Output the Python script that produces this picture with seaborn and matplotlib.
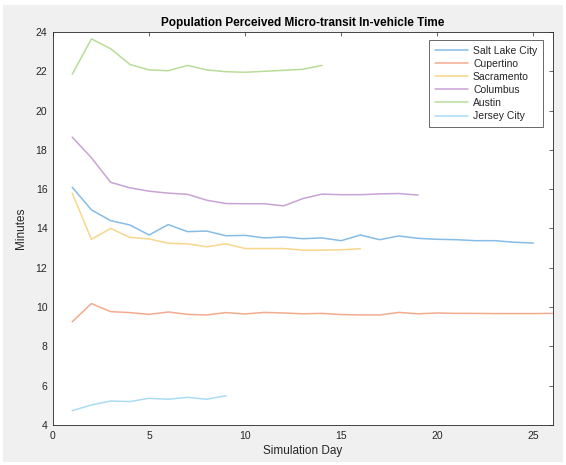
import numpy as np
import pandas as pd
import matplotlib
matplotlib.use("Agg")
import matplotlib.pyplot as plt
import seaborn as sns
from matplotlib.patches import Rectangle

cities = ["Salt Lake City", "Cupertino", "Sacramento", "Columbus", "Austin", "Jersey City"]

salt_lake = [16.1, 14.95, 14.4, 14.18, 13.67, 14.2, 13.84, 13.87, 13.63, 13.65, 13.52, 13.57,
             13.48, 13.52, 13.38, 13.67, 13.43, 13.62, 13.5, 13.45, 13.43, 13.38, 13.38, 13.3, 13.26]
cupertino = [9.25, 10.18, 9.77, 9.72, 9.63, 9.75, 9.63, 9.6, 9.72, 9.65, 9.73, 9.7, 9.66,
             9.68, 9.62, 9.6, 9.6, 9.73, 9.66, 9.7, 9.68, 9.68, 9.67, 9.67, 9.67, 9.68]
sacramento = [15.8, 13.45, 14.0, 13.55, 13.47, 13.25, 13.22, 13.07, 13.22, 12.98, 12.98,
              12.98, 12.9, 12.9, 12.92, 12.97]
columbus = [18.65, 17.6, 16.35, 16.07, 15.9, 15.8, 15.74, 15.44, 15.27, 15.26, 15.26, 15.15,
            15.52, 15.75, 15.72, 15.72, 15.76, 15.78, 15.7]
austin = [21.85, 23.65, 23.15, 22.35, 22.07, 22.03, 22.3, 22.07, 21.98, 21.95, 22.0, 22.05,
          22.1, 22.3]
jersey_city = [4.73, 5.02, 5.22, 5.19, 5.36, 5.31, 5.41, 5.31, 5.49]

series = [salt_lake, cupertino, sacramento, columbus, austin, jersey_city]
colors = ["#86bce6", "#f2ab8e", "#f8d68c", "#c9a2d6", "#b9dc98", "#a9dcf5"]

rows = []
for city, vals in zip(cities, series):
    for i, v in enumerate(vals):
        rows.append({"Simulation Day": i + 1, "Minutes": v, "City": city})
df = pd.DataFrame(rows)

sns.set_theme(style="white")
plt.rcParams["font.family"] = ["Liberation Sans", "DejaVu Sans"]

fig = plt.figure(figsize=(5.66, 4.65), dpi=100, facecolor="white")
fig.patches.append(Rectangle((3 / 566, 3 / 465), 560 / 566, 457 / 465, transform=fig.transFigure,
                             facecolor="#f0f0f0", edgecolor="none", zorder=-10))
ax = fig.add_axes([53 / 566, 40 / 465, 499.5 / 566, 393 / 465])
ax.set_zorder(5)
ax.set_facecolor("white")

sns.lineplot(data=df, x="Simulation Day", y="Minutes", hue="City", hue_order=cities,
             palette=dict(zip(cities, colors)), linewidth=1.1, ax=ax)

ax.set_xlim(0, 26)
ax.set_ylim(4, 24)
ax.set_xticks([0, 5, 10, 15, 20, 25])
ax.set_yticks(np.arange(4, 25, 2))
ax.tick_params(direction="in", length=3, width=0.6, colors="#4d4d4d", labelsize=7.5,
               top=True, right=True, labelcolor="#262626", pad=4)
for s in ax.spines.values():
    s.set_visible(True)
    s.set_color("#262626")
    s.set_linewidth(0.6)
ax.set_xlabel("Simulation Day", fontsize=8.5, color="#262626", labelpad=3)
ax.set_ylabel("Minutes", fontsize=8.5, color="#262626", labelpad=6)
ax.set_title("Population Perceived Micro-transit In-vehicle Time", fontsize=8.5,
             fontweight="bold", color="black", pad=4)

leg = ax.legend(loc="upper right", fontsize=7.5, frameon=True, fancybox=False,
                handlelength=3.2, handletextpad=0.45, borderpad=0.55, labelspacing=0.3,
                borderaxespad=0, bbox_to_anchor=(0.981, 0.98))
leg.get_frame().set_edgecolor("#262626")
leg.get_frame().set_linewidth(0.6)
for t in leg.get_texts():
    t.set_color("#262626")

fig.savefig("out.png", dpi=100, facecolor=fig.get_facecolor())
